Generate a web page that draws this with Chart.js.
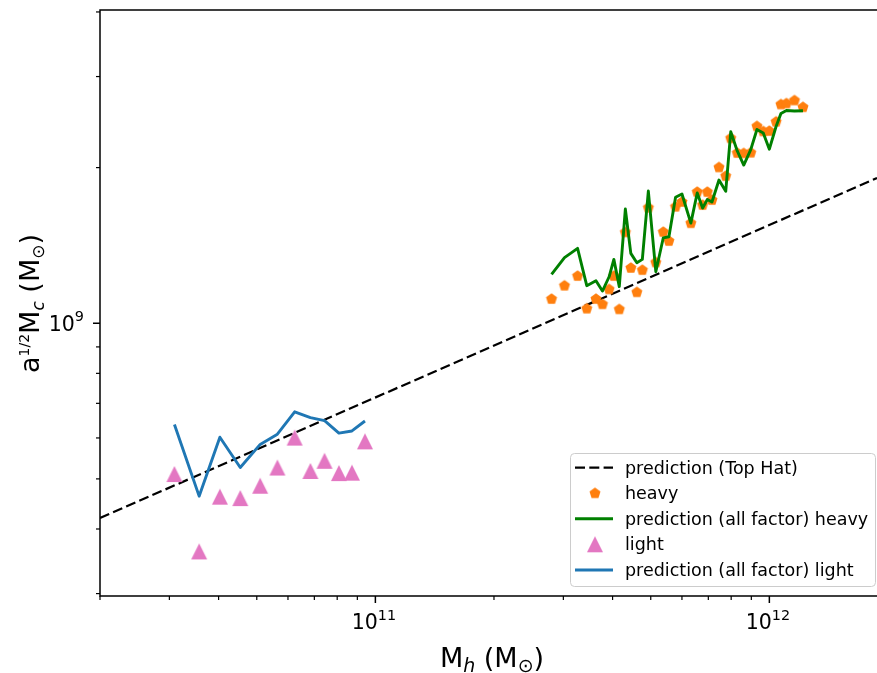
<!DOCTYPE html>
<html lang="en">
<head>
<meta charset="UTF-8">
<title>Core mass vs halo mass</title>
<script src="https://cdn.jsdelivr.net/npm/chart.js"></script>
<style>
  html, body { margin: 0; padding: 0; background: #fff; }
  canvas { display: block; }
</style>
</head>
<body>
<canvas id="massChart" width="877" height="673"></canvas>
<script>
// halo mass M_h (M_sun) of the heavy sample, simulated a^1/2 M_c and the all-factor prediction
const heavyMass = [2.80e11, 3.02e11, 3.26e11, 3.44e11, 3.63e11, 3.77e11, 3.92e11, 4.03e11, 4.16e11, 4.31e11,
                   4.45e11, 4.61e11, 4.76e11, 4.93e11, 5.15e11, 5.38e11, 5.56e11, 5.78e11, 6.00e11, 6.32e11,
                   6.56e11, 6.77e11, 6.96e11, 7.15e11, 7.45e11, 7.75e11, 7.98e11, 8.29e11, 8.61e11, 8.97e11,
                   9.30e11, 9.65e11, 1.00e12, 1.04e12, 1.07e12, 1.105e12, 1.158e12, 1.217e12];
const heavyCore = [1.114e9, 1.182e9, 1.234e9, 1.067e9, 1.114e9, 1.088e9, 1.163e9, 1.234e9, 1.064e9, 1.499e9,
                   1.279e9, 1.148e9, 1.267e9, 1.673e9, 1.311e9, 1.501e9, 1.442e9, 1.680e9, 1.716e9, 1.561e9,
                   1.794e9, 1.693e9, 1.794e9, 1.731e9, 2.002e9, 1.926e9, 2.279e9, 2.134e9, 2.131e9, 2.137e9,
                   2.404e9, 2.350e9, 2.354e9, 2.453e9, 2.649e9, 2.661e9, 2.697e9, 2.617e9];
const heavyPred = [1.243e9, 1.339e9, 1.396e9, 1.182e9, 1.208e9, 1.154e9, 1.230e9, 1.329e9, 1.177e9, 1.663e9,
                   1.365e9, 1.309e9, 1.329e9, 1.802e9, 1.258e9, 1.463e9, 1.470e9, 1.752e9, 1.778e9, 1.562e9,
                   1.786e9, 1.670e9, 1.735e9, 1.716e9, 1.892e9, 1.800e9, 2.346e9, 2.154e9, 2.023e9, 2.167e9,
                   2.370e9, 2.333e9, 2.171e9, 2.402e9, 2.545e9, 2.579e9, 2.573e9, 2.577e9];

// light sample
const lightMass = [3.09e10, 3.57e10, 4.03e10, 4.54e10, 5.10e10, 5.64e10, 6.24e10, 6.84e10, 7.43e10, 8.08e10, 8.72e10, 9.41e10];
const lightCore = [5.11e8, 3.62e8, 4.62e8, 4.59e8, 4.85e8, 5.26e8, 6.01e8, 5.18e8, 5.42e8, 5.13e8, 5.14e8, 5.91e8];
const lightPred = [6.37e8, 4.63e8, 6.02e8, 5.26e8, 5.83e8, 6.10e8, 6.74e8, 6.57e8, 6.48e8, 6.13e8, 6.19e8, 6.47e8];

// top hat relation, M_c ~ M_h^(1/3), end points across the plotted range
const topHatMass = [2.0e10, 1.876e12];
const topHatCore = [4.2e8, 1.91e9];

// axis ranges and labelled ticks
const xRange = [2.0e10, 1.876e12];
const yRange = [2.968e8, 4.035e9];
const xMajor = [1e11, 1e12];
const yMajor = [1e9];

const FONT = '"DejaVu Sans", sans-serif';

function pts(xs, ys) {
    return xs.map((v, i) => ({x: v, y: ys[i]}));
}

// matplotlib style pentagon / triangle markers as small canvases
function pentagon(r, color) {
    const size = Math.ceil(2 * r + 2);
    const c = document.createElement('canvas');
    c.width = c.height = size;
    const g = c.getContext('2d');
    g.fillStyle = color;
    g.beginPath();
    for (let i = 0; i < 5; i++) {
        const a = -Math.PI / 2 + i * 2 * Math.PI / 5;
        g.lineTo(size / 2 + r * Math.cos(a), size / 2 + r * Math.sin(a));
    }
    g.closePath();
    g.fill();
    return c;
}

function triangle(h, color) {
    const size = Math.ceil(2 * h + 2);
    const c = document.createElement('canvas');
    c.width = c.height = size;
    const g = c.getContext('2d');
    const m = size / 2;
    g.fillStyle = color;
    g.beginPath();
    g.moveTo(m, m - h);
    g.lineTo(m - h, m + h);
    g.lineTo(m + h, m + h);
    g.closePath();
    g.fill();
    return c;
}

const pentaMarker = pentagon(5.8, '#ff7f0e');
const triMarker = triangle(8, '#e377c2');
const DASH = [10, 4.3];

// draw a run of text pieces (sub/superscripts) starting at x on baseline y
function richText(ctx, parts, x, y, align) {
    let total = 0;
    parts.forEach(p => {
        ctx.font = (p.italic ? 'italic ' : '') + p.size + 'px ' + FONT;
        p.w = ctx.measureText(p.t).width;
        total += p.w;
    });
    let cx = align === 'center' ? x - total / 2 : align === 'right' ? x - total : x;
    ctx.textBaseline = 'alphabetic';
    ctx.textAlign = 'left';
    parts.forEach(p => {
        ctx.font = (p.italic ? 'italic ' : '') + p.size + 'px ' + FONT;
        ctx.fillText(p.t, cx, y + (p.dy || 0));
        cx += p.w;
    });
}

function powerLabel(exp) {
    return [{t: '10', size: 20.5}, {t: String(exp), size: 14.4, dy: -9.5}];
}

function minorTicks(lo, hi) {
    const out = [];
    for (let d = Math.floor(Math.log10(lo)); d <= Math.ceil(Math.log10(hi)); d++) {
        for (let k = 2; k <= 9; k++) {
            const v = k * Math.pow(10, d);
            if (v >= lo && v <= hi) out.push(v);
        }
    }
    return out;
}

const axisDecor = {
    id: 'axisDecor',
    afterDraw(chart) {
        const {ctx, chartArea: a, scales: {x, y}} = chart;
        ctx.save();
        ctx.strokeStyle = '#000';
        ctx.fillStyle = '#000';

        // spines (right one falls off the canvas)
        ctx.lineWidth = 1.5;
        ctx.beginPath();
        ctx.moveTo(a.right + 5, a.top);
        ctx.lineTo(a.left, a.top);
        ctx.lineTo(a.left, a.bottom);
        ctx.lineTo(a.right + 5, a.bottom);
        ctx.stroke();

        // tick marks
        ctx.lineWidth = 1.2;
        minorTicks(xRange[0], xRange[1]).forEach(v => {
            const px = x.getPixelForValue(v);
            ctx.beginPath(); ctx.moveTo(px, a.bottom); ctx.lineTo(px, a.bottom + 4); ctx.stroke();
        });
        minorTicks(yRange[0], yRange[1]).forEach(v => {
            const py = y.getPixelForValue(v);
            ctx.beginPath(); ctx.moveTo(a.left, py); ctx.lineTo(a.left - 4, py); ctx.stroke();
        });
        ctx.lineWidth = 1.5;
        xMajor.forEach(v => {
            const px = x.getPixelForValue(v);
            ctx.beginPath(); ctx.moveTo(px, a.bottom); ctx.lineTo(px, a.bottom + 7); ctx.stroke();
            richText(ctx, powerLabel(Math.round(Math.log10(v))), px - 1.5, a.bottom + 33, 'center');
        });
        yMajor.forEach(v => {
            const py = y.getPixelForValue(v);
            ctx.beginPath(); ctx.moveTo(a.left, py); ctx.lineTo(a.left - 7, py); ctx.stroke();
            richText(ctx, powerLabel(Math.round(Math.log10(v))), a.left - 16, py + 7.5, 'right');
        });

        // axis titles
        richText(ctx, [
            {t: 'M', size: 27},
            {t: 'h', size: 19, dy: 5, italic: true},
            {t: ' (M', size: 27},
            {t: '\u2299', size: 19, dy: 5},
            {t: ')', size: 27}
        ], 492, 667, 'center');

        ctx.save();
        ctx.translate(38.5, 303.5);
        ctx.rotate(-Math.PI / 2);
        richText(ctx, [
            {t: 'a', size: 27},
            {t: '1/2', size: 14, dy: -10},
            {t: 'M', size: 27},
            {t: 'c', size: 17, dy: 5, italic: true},
            {t: ' (M', size: 27},
            {t: '\u2299', size: 17, dy: 5},
            {t: ')', size: 27}
        ], 0, 0, 'center');
        ctx.restore();

        // legend box, lower right
        const lx = 570.5, ly = 453.5, lw = 305, lh = 133, r = 4;
        ctx.beginPath();
        ctx.moveTo(lx + r, ly);
        ctx.arcTo(lx + lw, ly, lx + lw, ly + lh, r);
        ctx.arcTo(lx + lw, ly + lh, lx, ly + lh, r);
        ctx.arcTo(lx, ly + lh, lx, ly, r);
        ctx.arcTo(lx, ly, lx + lw, ly, r);
        ctx.closePath();
        ctx.fillStyle = 'rgba(255,255,255,0.8)';
        ctx.fill();
        ctx.strokeStyle = '#cccccc';
        ctx.lineWidth = 1;
        ctx.stroke();

        const rows = [467.7, 493.3, 518.8, 544.3, 570];
        chart.data.datasets.forEach((ds, i) => {
            const ry = rows[i];
            if (ds.showLine) {
                ctx.strokeStyle = ds.borderColor;
                ctx.lineWidth = ds.borderWidth;
                ctx.setLineDash(ds.borderDash || []);
                ctx.beginPath(); ctx.moveTo(575, ry); ctx.lineTo(613, ry); ctx.stroke();
                ctx.setLineDash([]);
            } else {
                const img = ds.pointStyle;
                ctx.drawImage(img, 595 - img.width / 2, ry - img.height / 2);
            }
            ctx.fillStyle = '#000';
            ctx.font = '17.5px ' + FONT;
            ctx.textAlign = 'left';
            ctx.textBaseline = 'alphabetic';
            ctx.fillText(ds.label, 625, ry + 6);
        });
        ctx.restore();
    }
};

new Chart(document.getElementById('massChart'), {
    type: 'scatter',
    data: {
        datasets: [
            {
                label: 'prediction (Top Hat)',
                data: pts(topHatMass, topHatCore),
                showLine: true,
                borderColor: '#000000',
                borderWidth: 2.2,
                borderDash: DASH,
                pointRadius: 0,
                order: 5
            },
            {
                label: 'heavy',
                data: pts(heavyMass, heavyCore),
                pointStyle: pentaMarker,
                pointRadius: 5,
                order: 4
            },
            {
                label: 'prediction (all factor) heavy',
                data: pts(heavyMass, heavyPred),
                showLine: true,
                borderColor: '#008000',
                borderWidth: 2.9,
                borderJoinStyle: 'round',
                pointRadius: 0,
                order: 3
            },
            {
                label: 'light',
                data: pts(lightMass, lightCore),
                pointStyle: triMarker,
                pointRadius: 8,
                order: 2
            },
            {
                label: 'prediction (all factor) light',
                data: pts(lightMass, lightPred),
                showLine: true,
                borderColor: '#1f77b4',
                borderWidth: 2.9,
                borderJoinStyle: 'round',
                pointRadius: 0,
                order: 1
            }
        ]
    },
    options: {
        responsive: false,
        animation: false,
        events: [],
        layout: { autoPadding: false, padding: { top: 10, right: 0, left: 0, bottom: 0 } },
        plugins: {
            legend: { display: false },
            tooltip: { enabled: false }
        },
        scales: {
            x: {
                type: 'logarithmic',
                min: xRange[0],
                max: xRange[1],
                ticks: { display: false },
                grid: { display: false },
                border: { display: false },
                afterFit: s => { s.height = 77; }
            },
            y: {
                type: 'logarithmic',
                min: yRange[0],
                max: yRange[1],
                ticks: { display: false },
                grid: { display: false },
                border: { display: false },
                afterFit: s => { s.width = 100; }
            }
        }
    },
    plugins: [axisDecor]
});
</script>
</body>
</html>
